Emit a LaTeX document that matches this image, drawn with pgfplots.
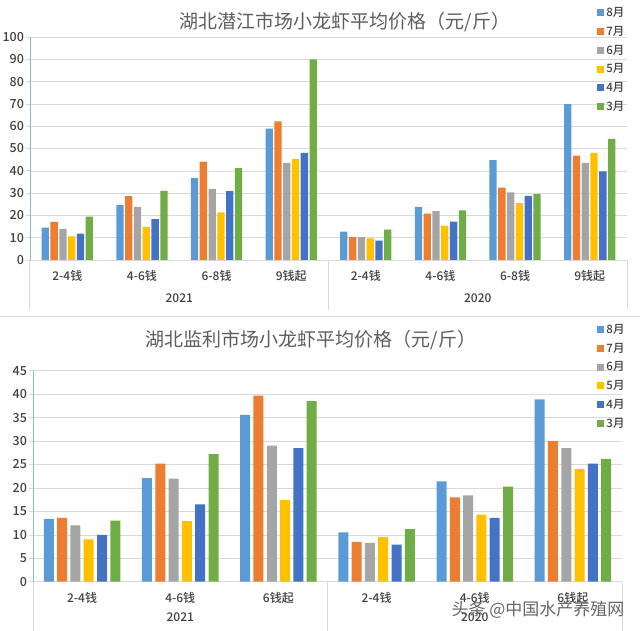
\documentclass[border=0pt]{standalone}
\usepackage{fontspec}
\setmainfont{Noto Sans CJK SC}
\newfontfamily\medf{Noto Sans CJK SC Medium}
\usepackage{pgfplots}
\pgfplotsset{compat=1.18}
\definecolor{cA}{HTML}{5B9BD5}
\definecolor{cB}{HTML}{ED7D31}
\definecolor{cC}{HTML}{A5A5A5}
\definecolor{cD}{HTML}{FFC000}
\definecolor{cE}{HTML}{4472C4}
\definecolor{cF}{HTML}{70AD47}
\definecolor{txt}{HTML}{404040}
\definecolor{gridc}{HTML}{D9D9D9}
\pgfplotsset{
  sq/.style={draw=none, legend image code/.code={\fill[##1] (0pt,-3.5pt) rectangle (7pt,3.5pt);}},
  common/.style={
    scale only axis,
    clip=false,
    axis x line*=bottom,
    axis y line*=left,
    x axis line style={draw=gridc},
    y axis line style={draw=cA!70},
    ymajorgrids,
    grid style={draw=gridc},
    xtick style={draw=none},
    ytick style={draw=gridc, line width=0.6pt},
    major tick length=4pt,
    tick align=outside,
    ticklabel style={font=\medf\fontsize{12}{13}\selectfont, text=txt},
    /pgf/number format/assume math mode=true,
    yticklabel style={xshift=1.5pt, font=\medf\fontsize{12.5}{13}\selectfont},
    xticklabel style={yshift=-3pt},
    legend cell align=left,
    legend style={draw=none, fill=none, font=\medf\fontsize{11.5}{12}\selectfont\color{txt},
      row sep=4.2pt, inner sep=0pt},
  }
}
\begin{document}
\begin{tikzpicture}
\useasboundingbox (0pt,0pt) rectangle (640pt,631pt);
\draw[draw=gridc, line width=1.2pt] (0pt,314.3pt) -- (640pt,314.3pt);
\node[font=\fontsize{19}{20}\selectfont, text=txt!85] at (345pt,609pt) {湖北潜江市场小龙虾平均价格（元/斤）};
\node[font=\fontsize{19}{20}\selectfont, text=txt!85] at (311pt,291pt) {湖北监利市场小龙虾平均价格（元/斤）};
\begin{axis}[common,
  at={(30pt,371pt)}, anchor=south west, width=597pt, height=223pt,
  ymin=0, ymax=100, ytick={0,10,...,100},
  xmin=-0.5, xmax=7.5, xtick={0,...,7},
  xticklabels={2-4钱,4-6钱,6-8钱,9钱起,2-4钱,4-6钱,6-8钱,9钱起},
  ybar=1.5pt, bar width=7.3pt,
  legend style={at={(0.95,1.143)}, anchor=north west},
]
\addplot[sq, fill=cA] coordinates {(0,14.5) (1,24.6) (2,36.7) (3,58.9) (4,12.7) (5,23.8) (6,44.8) (7,69.9)};
\addplot[sq, fill=cB] coordinates {(0,17.1) (1,28.6) (2,44.1) (3,62.2) (4,10.2) (5,20.8) (6,32.4) (7,46.8)};
\addplot[sq, fill=cC] coordinates {(0,13.9) (1,23.8) (2,31.9) (3,43.6) (4,10.2) (5,21.9) (6,30.3) (7,43.6)};
\addplot[sq, fill=cD] coordinates {(0,10.6) (1,14.8) (2,21.3) (3,45.3) (4,9.7) (5,15.4) (6,25.5) (7,48.0)};
\addplot[sq, fill=cE] coordinates {(0,11.8) (1,18.3) (2,30.9) (3,48.0) (4,8.7) (5,17.2) (6,28.8) (7,39.7)};
\addplot[sq, fill=cF] coordinates {(0,19.5) (1,31.0) (2,41.2) (3,90.0) (4,13.6) (5,22.3) (6,29.5) (7,54.3)};
\legend{8月,7月,6月,5月,4月,3月}
\draw[draw=gridc] ([xshift=-1pt]rel axis cs:0,0) -- ([xshift=-1pt,yshift=-50pt]rel axis cs:0,0);
\draw[draw=gridc] (axis cs:3.5,0) -- ([yshift=-50pt]axis cs:3.5,0);
\draw[draw=gridc] (rel axis cs:1,0) -- ([yshift=-50pt]rel axis cs:1,0);
\node[font=\medf\fontsize{12}{13}\selectfont, text=txt] at ([yshift=-38pt]axis cs:1.5,0) {2021};
\node[font=\medf\fontsize{12}{13}\selectfont, text=txt] at ([yshift=-38pt]axis cs:5.5,0) {2020};
\end{axis}
\begin{axis}[common,
  at={(33pt,49.3pt)}, anchor=south west, width=589pt, height=211pt,
  ymin=0, ymax=45, ytick={0,5,...,45},
  xmin=-0.5, xmax=5.5, xtick={0,...,5},
  xticklabels={2-4钱,4-6钱,6钱起,2-4钱,4-6钱,6钱起},
  ybar=3.3pt, bar width=10pt,
  legend style={at={(0.958,1.231)}, anchor=north west},
]
\addplot[sq, fill=cA] coordinates {(0,13.4) (1,22.1) (2,35.6) (3,10.5) (4,21.4) (5,38.9)};
\addplot[sq, fill=cB] coordinates {(0,13.6) (1,25.2) (2,39.7) (3,8.5) (4,18.0) (5,30.0)};
\addplot[sq, fill=cC] coordinates {(0,12.0) (1,22.0) (2,29.0) (3,8.3) (4,18.4) (5,28.5)};
\addplot[sq, fill=cD] coordinates {(0,9.0) (1,12.9) (2,17.4) (3,9.5) (4,14.3) (5,24.0)};
\addplot[sq, fill=cE] coordinates {(0,10.0) (1,16.5) (2,28.5) (3,7.9) (4,13.6) (5,25.2)};
\addplot[sq, fill=cF] coordinates {(0,13.0) (1,27.2) (2,38.5) (3,11.2) (4,20.3) (5,26.2)};
\legend{8月,7月,6月,5月,4月,3月}
\draw[draw=gridc] (rel axis cs:0,0) -- ([yshift=-50pt]rel axis cs:0,0);
\draw[draw=gridc] (axis cs:2.5,0) -- ([yshift=-50pt]axis cs:2.5,0);
\draw[draw=gridc] (rel axis cs:1,0) -- ([yshift=-50pt]rel axis cs:1,0);
\node[font=\medf\fontsize{12}{13}\selectfont, text=txt] at ([yshift=-36pt]axis cs:1,0) {2021};
\node[font=\medf\fontsize{12}{13}\selectfont, text=txt] at ([yshift=-36pt]axis cs:4,0) {2020};
\end{axis}
\node[font=\fontsize{17}{18}\selectfont, text=txt!80, anchor=east] at (628pt,21pt) {头条 @中国水产养殖网};
\end{tikzpicture}
\end{document}
